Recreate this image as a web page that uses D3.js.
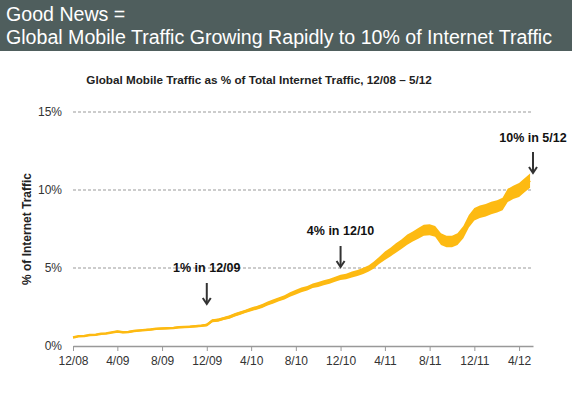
<!DOCTYPE html>
<html>
<head>
<meta charset="utf-8">
<script src="https://cdn.jsdelivr.net/npm/d3@7"></script>
<style>
  body { margin: 0; background: #fff; }
  svg { display: block; font-family: "Liberation Sans", Arial, sans-serif; }
</style>
</head>
<body>
<svg id="chart"></svg>
<script>
const width = 572;
const height = 394;

const LINE_COLOR = "#FDBA12";
const BAR_COLOR = "#4f5e5d";

// month starts, 12/08 .. 5/12; two readings per month (1st, 16th)
const months = [
  "2008-12", "2009-01", "2009-02", "2009-03", "2009-04", "2009-05", "2009-06",
  "2009-07", "2009-08", "2009-09", "2009-10", "2009-11", "2009-12", "2010-01",
  "2010-02", "2010-03", "2010-04", "2010-05", "2010-06", "2010-07", "2010-08",
  "2010-09", "2010-10", "2010-11", "2010-12", "2011-01", "2011-02", "2011-03",
  "2011-04", "2011-05", "2011-06", "2011-07", "2011-08", "2011-09", "2011-10",
  "2011-11", "2011-12", "2012-01", "2012-02", "2012-03", "2012-04", "2012-05"
];

// % of internet traffic
const traffic = [
  [0.55, 0.62], [0.64, 0.70], [0.72, 0.78], [0.80, 0.86], [0.93, 0.88], [0.90, 0.96],
  [1.00, 1.03], [1.06, 1.10], [1.12, 1.14], [1.16, 1.20], [1.22, 1.24], [1.27, 1.30],
  [1.35, 1.62], [1.66, 1.76], [1.86, 2.00], [2.10, 2.22], [2.35, 2.45], [2.56, 2.72],
  [2.86, 3.00], [3.12, 3.30], [3.45, 3.60], [3.70, 3.86], [3.95, 4.06], [4.15, 4.28],
  [4.40, 4.45], [4.58, 4.68], [4.82, 4.98], [5.18, 5.48], [5.78, 6.02], [6.28, 6.52],
  [6.82, 7.02], [7.22, 7.42], [7.45, 7.35], [6.85, 6.70], [6.70, 6.85], [7.30, 8.00],
  [8.45, 8.60], [8.70, 8.85], [8.95, 9.10], [9.65, 9.85], [10.00, 10.30], [10.60]
];

// thickness of the noisy band (in % points) per month
const spread = [
  0.10, 0.10, 0.10, 0.10, 0.12, 0.12, 0.12, 0.12, 0.12, 0.12, 0.12, 0.14,
  0.18, 0.20, 0.22, 0.22, 0.24, 0.25, 0.26, 0.28, 0.30, 0.30, 0.32, 0.32,
  0.35, 0.38, 0.40, 0.45, 0.55, 0.60, 0.65, 0.70, 0.70, 0.75, 0.75, 0.80,
  0.80, 0.80, 0.80, 0.85, 0.90, 0.90
];

const yTicks = [0, 5, 10, 15];
const xTickLabels = ["12/08", "4/09", "8/09", "12/09", "4/10", "8/10", "12/10", "4/11", "8/11", "12/11", "4/12"];
const xTickDates = ["2008-12-01", "2009-04-01", "2009-08-01", "2009-12-01", "2010-04-01", "2010-08-01",
  "2010-12-01", "2011-04-01", "2011-08-01", "2011-12-01", "2012-04-01"];

const notes = [
  { text: "1% in 12/09", date: "2009-12-01", label: 272, top: 283 },
  { text: "4% in 12/10", date: "2010-12-01", label: 235, top: 246 },
  { text: "10% in 5/12", date: "2012-05-09", label: 142, top: 152 }
];

const parse = d3.timeParse("%Y-%m-%d");

const points = [];
months.forEach((m, i) => {
  traffic[i].forEach((v, j) => {
    points.push({ date: parse(m + (j === 0 ? "-01" : "-16")), value: v, spread: spread[i] });
  });
});

const svg = d3.select("#chart")
  .attr("width", width)
  .attr("height", height);

svg.append("rect").attr("width", width).attr("height", height).attr("fill", "#fff");

// header bar
svg.append("rect")
  .attr("width", width)
  .attr("height", 51)
  .attr("fill", BAR_COLOR);

svg.append("text")
  .attr("x", 6).attr("y", 21)
  .attr("fill", "#fff")
  .attr("font-size", 19.6)
  .text("Good News =");

svg.append("text")
  .attr("x", 6).attr("y", 44)
  .attr("fill", "#fff")
  .attr("font-size", 19.6)
  .text("Global Mobile Traffic Growing Rapidly to 10% of Internet Traffic");

svg.append("text")
  .attr("x", 259).attr("y", 84)
  .attr("text-anchor", "middle")
  .attr("font-size", 11.7)
  .attr("font-weight", "bold")
  .attr("fill", "#222")
  .text("Global Mobile Traffic as % of Total Internet Traffic, 12/08 \u2013 5/12");

const x = d3.scaleTime()
  .domain([parse("2008-12-01"), parse("2012-05-09")])
  .range([73, 533]);

const y = d3.scaleLinear()
  .domain([0, 15])
  .range([346, 112]);

// grid lines
svg.append("g")
  .selectAll("line")
  .data(yTicks.filter(d => d > 0))
  .enter()
  .append("line")
  .attr("x1", 73).attr("x2", 533)
  .attr("y1", d => y(d)).attr("y2", d => y(d))
  .attr("stroke", "#999")
  .attr("stroke-width", 1)
  .attr("stroke-dasharray", "3,2");

// y labels
svg.append("g")
  .selectAll("text")
  .data(yTicks)
  .enter()
  .append("text")
  .attr("x", 62)
  .attr("y", d => y(d) + 4)
  .attr("text-anchor", "end")
  .attr("font-size", 12)
  .attr("fill", "#333")
  .text(d => d + "%");

svg.append("text")
  .attr("transform", "translate(31,229) rotate(-90)")
  .attr("text-anchor", "middle")
  .attr("font-size", 12)
  .attr("font-weight", "bold")
  .attr("fill", "#222")
  .text("% of Internet Traffic");

// x axis
const xAxis = d3.axisBottom(x)
  .tickValues(xTickDates.map(parse))
  .tickFormat((d, i) => xTickLabels[i])
  .tickSize(5)
  .tickSizeOuter(0);

const gx = svg.append("g")
  .attr("transform", "translate(0,346)")
  .call(xAxis);

gx.select(".domain").attr("stroke", "#999").attr("stroke-width", 1.5);
gx.selectAll(".tick line").attr("stroke", "#999");
gx.selectAll(".tick text")
  .attr("font-family", "Liberation Sans, Arial, sans-serif")
  .attr("font-size", 12)
  .attr("fill", "#333")
  .attr("dy", "0.9em");

// traffic band + line
const area = d3.area()
  .x(d => x(d.date))
  .y0(d => y(d.value - d.spread / 2))
  .y1(d => y(d.value + d.spread / 2));

svg.append("path")
  .datum(points)
  .attr("d", area)
  .attr("fill", LINE_COLOR);

const line = d3.line()
  .x(d => x(d.date))
  .y(d => y(d.value));

svg.append("path")
  .datum(points)
  .attr("d", line)
  .attr("fill", "none")
  .attr("stroke", LINE_COLOR)
  .attr("stroke-width", 2.5)
  .attr("stroke-linejoin", "round");

// annotations
const note = svg.append("g")
  .selectAll("g")
  .data(notes)
  .enter()
  .append("g");

note.append("text")
  .attr("x", d => x(parse(d.date)))
  .attr("y", d => d.label)
  .attr("text-anchor", "middle")
  .attr("font-size", 12.5)
  .attr("font-weight", "bold")
  .attr("fill", "#111")
  .text(d => d.text);

note.append("line")
  .attr("x1", d => x(parse(d.date))).attr("x2", d => x(parse(d.date)))
  .attr("y1", d => d.top).attr("y2", d => d.top + 20)
  .attr("stroke", "#333")
  .attr("stroke-width", 2);

note.append("path")
  .attr("d", d => {
    const cx = x(parse(d.date)), cy = d.top + 21;
    return `M${cx - 4},${cy - 6}L${cx},${cy}L${cx + 4},${cy - 6}`;
  })
  .attr("fill", "none")
  .attr("stroke", "#333")
  .attr("stroke-width", 2);
</script>
</body>
</html>
